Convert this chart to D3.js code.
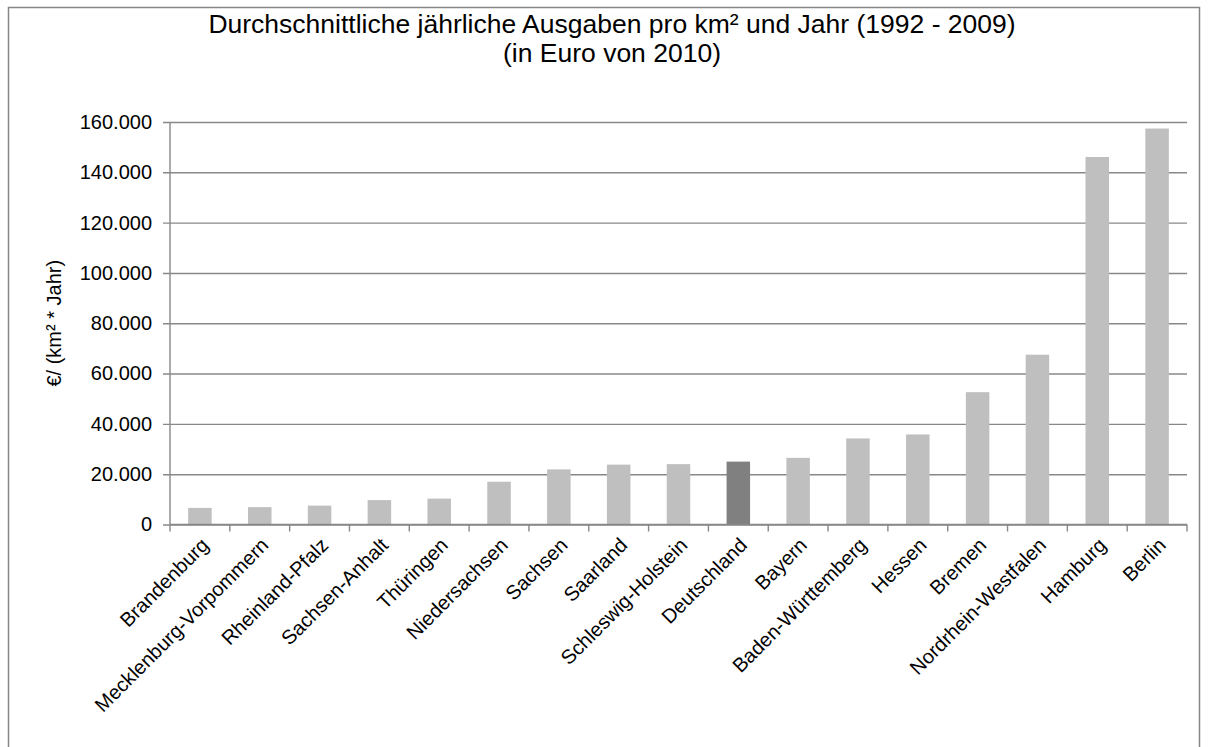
<!DOCTYPE html>
<html>
<head>
<meta charset="utf-8">
<script src="https://cdn.jsdelivr.net/npm/d3@7"></script>
<style>
  body { margin: 0; background: #fff; }
  svg { display: block; font-family: Arial, "Liberation Sans", sans-serif; }
</style>
</head>
<body>
<svg id="chart" width="1208" height="747"></svg>
<script>
// Durchschnittliche jaehrliche Ausgaben pro km2, sortiert
const laender = [
  "Brandenburg", "Mecklenburg-Vorpommern", "Rheinland-Pfalz", "Sachsen-Anhalt",
  "Thüringen", "Niedersachsen", "Sachsen", "Saarland", "Schleswig-Holstein",
  "Deutschland", "Bayern", "Baden-Württemberg", "Hessen", "Bremen",
  "Nordrhein-Westfalen", "Hamburg", "Berlin"
];
const ausgaben = [
  6600, 6900, 7500, 9700, 10300, 17000, 21900, 23800, 24000,
  25000, 26500, 34200, 35800, 52600, 67500, 146100, 157400
];
const yTicks = [0, 20000, 40000, 60000, 80000, 100000, 120000, 140000, 160000];
const highlight = "Deutschland";

const titleLines = [
  "Durchschnittliche jährliche Ausgaben pro km² und Jahr (1992 - 2009)",
  "(in Euro von 2010)"
];
const yLabel = "€/ (km² * Jahr)";

const width = 1208, height = 747;
const margin = { top: 122, right: 21, bottom: 222.5, left: 170 };

const svg = d3.select("#chart");

const de = d3.formatLocale({ decimal: ",", thousands: ".", grouping: [3], currency: ["", " €"] });
const fmt = de.format(",");

const data = laender.map((name, i) => ({ name, value: ausgaben[i] }));

const x = d3.scaleBand()
  .domain(laender)
  .range([margin.left, width - margin.right])
  .paddingInner(0.607)
  .paddingOuter(0.3035);

const y = d3.scaleLinear()
  .domain([0, 160000])
  .range([height - margin.bottom, margin.top]);

// outer frame
svg.append("rect")
  .attr("x", 8.5).attr("y", 7.5)
  .attr("width", 1191).attr("height", 760)
  .attr("fill", "none")
  .attr("stroke", "#868686")
  .attr("stroke-width", 1.5);

// gridlines + y axis
const yAxis = d3.axisLeft(y)
  .tickValues(yTicks)
  .tickSize(-(width - margin.right - margin.left))
  .tickPadding(18)
  .tickFormat(fmt);

svg.append("g")
  .attr("transform", `translate(${margin.left},0)`)
  .call(yAxis)
  .call(g => g.select(".domain").remove())
  .call(g => g.selectAll(".tick line")
    .attr("x1", -7)
    .attr("stroke", "#888")
    .attr("stroke-width", 1.4))
  .call(g => g.selectAll(".tick text")
    .attr("font-size", 20)
    .attr("fill", "#000"));

// bars
svg.append("g")
  .selectAll("rect")
  .data(data)
  .join("rect")
  .attr("x", d => x(d.name))
  .attr("y", d => y(d.value))
  .attr("width", x.bandwidth())
  .attr("height", d => y(0) - y(d.value))
  .attr("fill", d => d.name === highlight ? "#808080" : "#bfbfbf");

// y axis line
svg.append("line")
  .attr("x1", margin.left).attr("x2", margin.left)
  .attr("y1", margin.top).attr("y2", y(0))
  .attr("stroke", "#888").attr("stroke-width", 1.4);

// x axis
const step = x.step();
const edges = d3.range(laender.length + 1).map(i => margin.left + i * step);

const xg = svg.append("g");
xg.append("line")
  .attr("x1", margin.left).attr("x2", width - margin.right)
  .attr("y1", y(0)).attr("y2", y(0))
  .attr("stroke", "#888").attr("stroke-width", 1.4);
xg.selectAll(".tk")
  .data(edges)
  .join("line")
  .attr("class", "tk")
  .attr("x1", d => d).attr("x2", d => d)
  .attr("y1", y(0)).attr("y2", y(0) + 7)
  .attr("stroke", "#888").attr("stroke-width", 1.4);

xg.selectAll("text")
  .data(laender)
  .join("text")
  .attr("transform", d => `translate(${x(d) + x.bandwidth() / 2 + 10},${y(0) + 22}) rotate(-45)`)
  .attr("text-anchor", "end")
  .attr("font-size", 20)
  .attr("fill", "#000")
  .text(d => d);

// y axis title
svg.append("text")
  .attr("transform", `translate(61,${(margin.top + y(0)) / 2}) rotate(-90)`)
  .attr("text-anchor", "middle")
  .attr("font-size", 20)
  .attr("fill", "#000")
  .text(yLabel);

// chart title
svg.append("g")
  .selectAll("text")
  .data(titleLines)
  .join("text")
  .attr("x", 612)
  .attr("y", (d, i) => 33 + i * 29)
  .attr("text-anchor", "middle")
  .attr("font-size", 26.5)
  .attr("fill", "#000")
  .text(d => d);
</script>
</body>
</html>
